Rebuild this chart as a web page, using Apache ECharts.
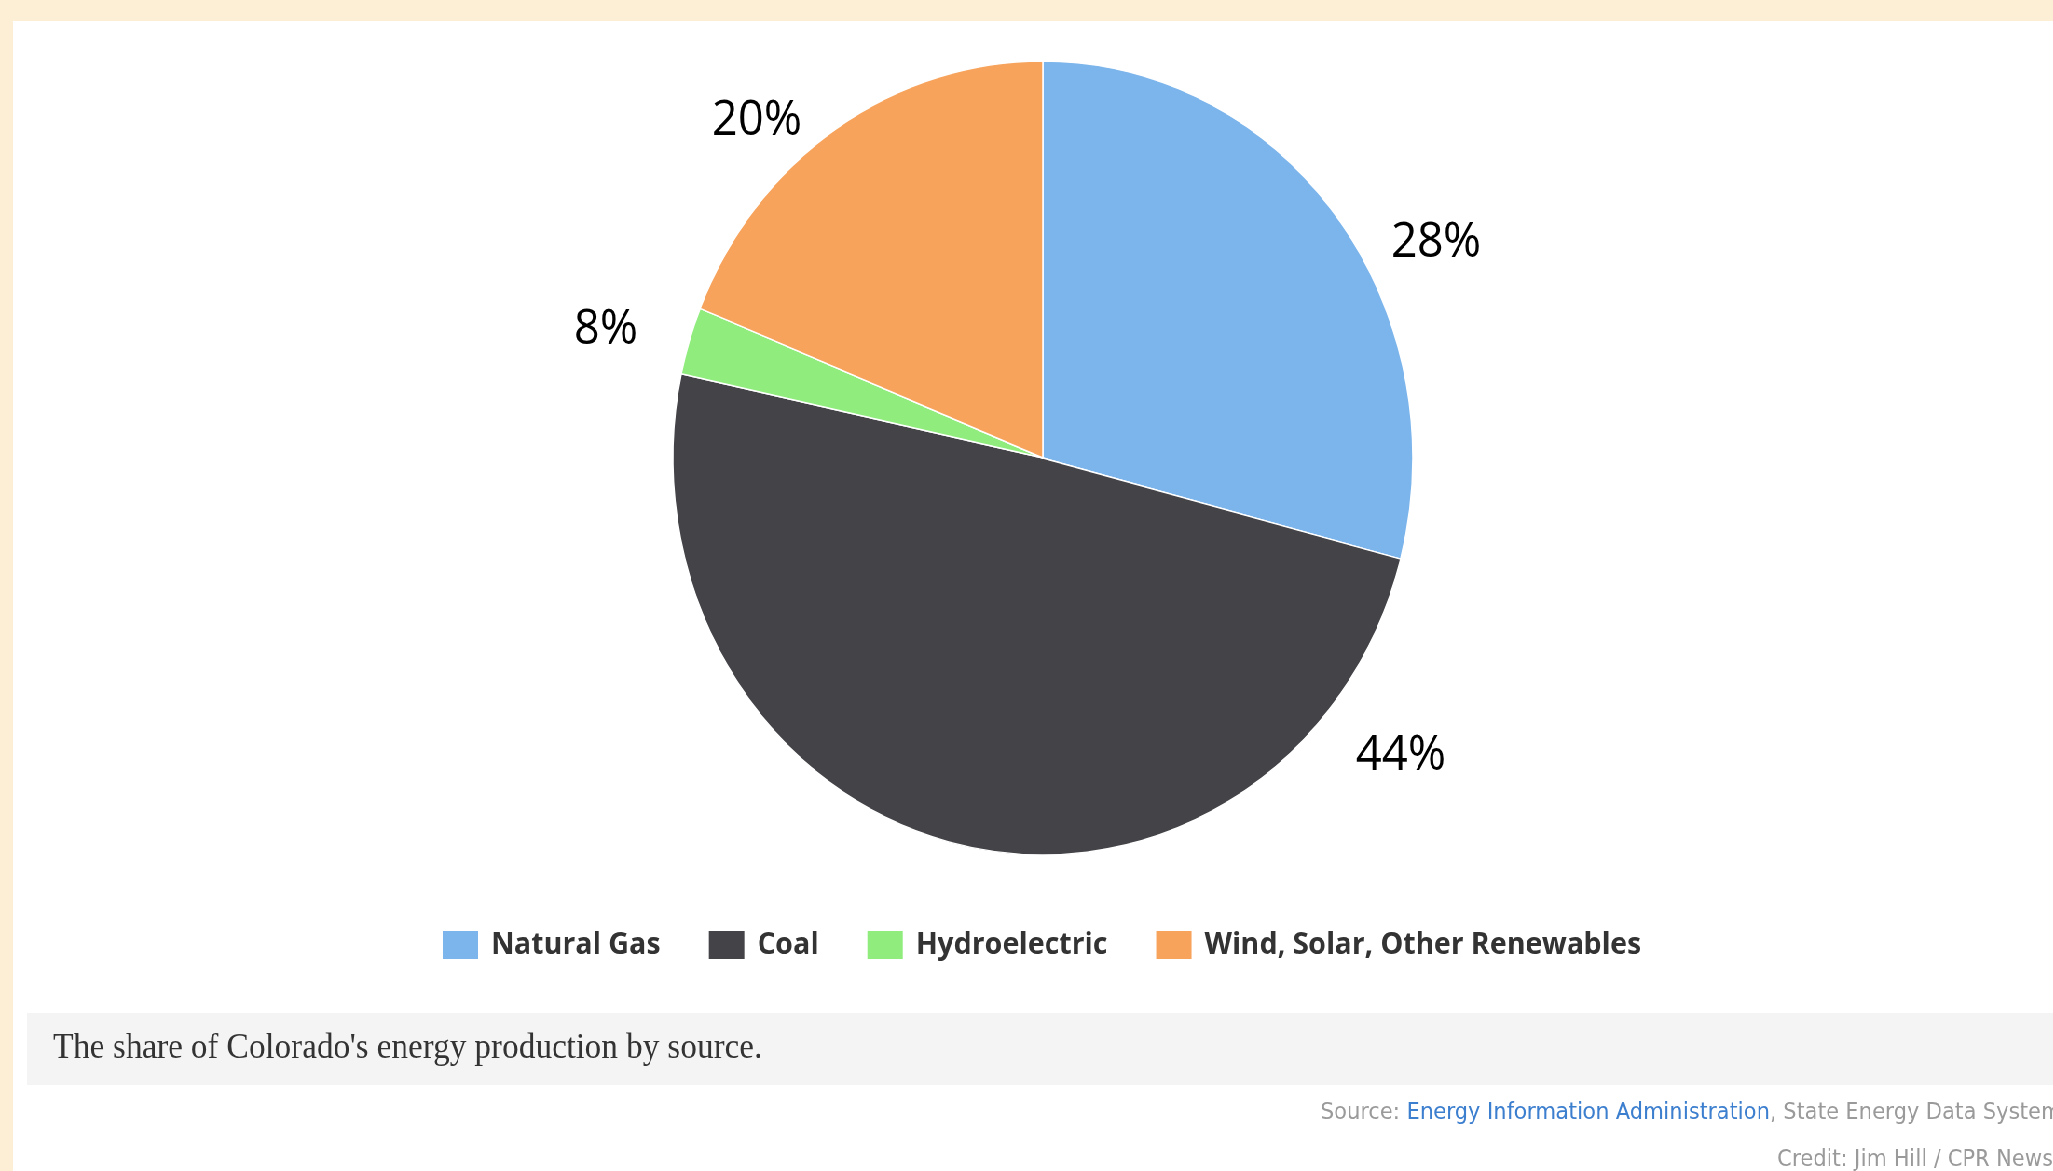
<!DOCTYPE html>
<html>
<head>
<meta charset="utf-8">
<title>Colorado energy production by source</title>
<script src="https://cdn.jsdelivr.net/npm/echarts@6/dist/echarts.min.js"></script>
<style>
  html, body { margin: 0; padding: 0; width: 2053px; height: 1171px; overflow: hidden; background: #fcefd6; }
  /* the original screenshot is squeezed horizontally, so the card is drawn wide and scaled down */
  #card {
    position: absolute; left: 13px; top: 21px;
    width: 2189px; height: 1150px;
    background: #ffffff;
    transform: scaleX(0.932); transform-origin: 0 0;
  }
</style>
</head>
<body>
<div id="card"></div>
<script>
// sources, in legend order
const categories = ["Natural Gas", "Coal", "Hydroelectric", "Wind, Solar, Other Renewables"];
// slice sizes as they are drawn in the picture
const shares = [29.1, 49.3, 2.75, 18.85];
// the percentage labels printed next to the slices
const shareLabels = ["28%", "44%", "8%", "20%"];

const caption = "The share of Colorado's energy production by source.";
const sourceName = "Energy Information Administration";
const credit = "Credit: Jim Hill / CPR News";

const chart = echarts.init(document.getElementById("card"));

// where the printed percentages sit (pixels, card space)
const labelSpots = [[1527, 222], [1489, 735], [636, 309], [798, 100]];

const option = {
  animation: false,
  color: ["#7cb5ec", "#434348", "#90ed7d", "#f7a35c"],
  legend: {
    data: categories,
    left: 454,
    top: 903,
    icon: "rect",
    itemWidth: 40,
    itemHeight: 30,
    itemGap: 50,
    selectedMode: false,
    textStyle: {
      fontFamily: "Open Sans",
      fontWeight: "bold",
      fontSize: 30.5,
      color: "#333333",
      padding: [0, 0, 0, 8],
    },
  },
  graphic: [
    {
      type: "rect",
      left: 15,
      top: 992,
      shape: { width: 2200, height: 72 },
      style: { fill: "#f4f4f4" },
      silent: true,
    },
    {
      type: "text",
      x: 43,
      y: 1028,
      style: {
        text: caption,
        fontFamily: "Liberation Serif",
        fontSize: 35.5,
        fill: "#333333",
        verticalAlign: "middle",
      },
      silent: true,
    },
    {
      type: "text",
      x: 1403,
      y: 1092,
      style: {
        text: "{g|Source: }{b|" + sourceName + "}{g|, State Energy Data System}",
        verticalAlign: "middle",
        rich: {
          g: { fontFamily: "DejaVu Sans", fontSize: 22.6, fill: "#9a9a9a" },
          b: { fontFamily: "DejaVu Sans", fontSize: 22.6, fill: "#3d7fcf" },
        },
      },
      silent: true,
    },
    {
      type: "text",
      x: 1893,
      y: 1139,
      style: {
        text: credit,
        fontFamily: "DejaVu Sans",
        fontSize: 22.6,
        fill: "#9a9a9a",
        verticalAlign: "middle",
      },
      silent: true,
    },
  ],
  series: [
    {
      type: "pie",
      center: [1105, 437],
      radius: 397,
      startAngle: 90,
      clockwise: true,
      avoidLabelOverlap: false,
      itemStyle: { borderColor: "#ffffff", borderWidth: 1.5 },
      emphasis: { disabled: true },
      label: {
        show: true,
        position: "outside",
        formatter: (p) => shareLabels[p.dataIndex],
        fontFamily: "Open Sans",
        fontSize: 49,
        color: "#000000",
      },
      labelLine: { show: false },
      labelLayout: (p) => ({
        x: labelSpots[p.dataIndex][0],
        y: labelSpots[p.dataIndex][1],
        align: "center",
        verticalAlign: "middle",
      }),
      data: categories.map((name, i) => ({ name: name, value: shares[i] })),
    },
  ],
};

chart.setOption(option);
</script>
</body>
</html>
